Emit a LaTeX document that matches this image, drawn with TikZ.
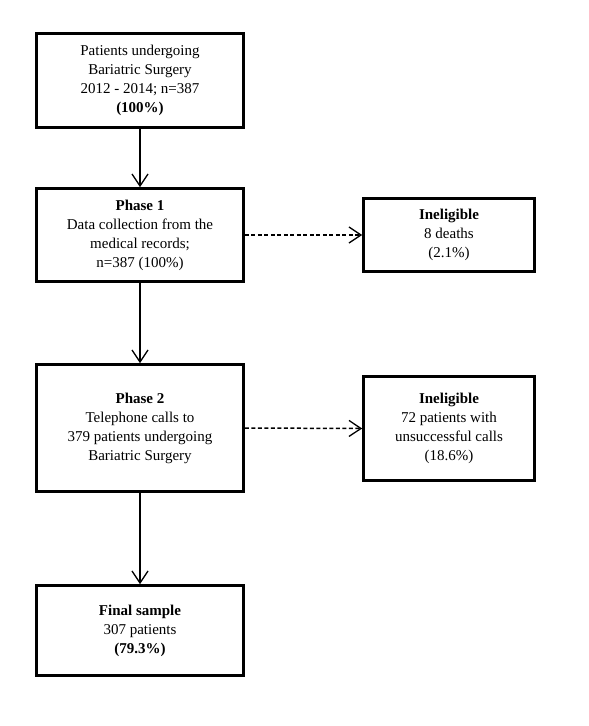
\documentclass[tikz,border=0pt]{standalone}
\usepackage{fontspec}
\setmainfont{Liberation Serif}
\usetikzlibrary{arrows.meta}
\begin{document}
\begin{tikzpicture}[x=1pt,y=-1pt,
  box/.style={draw=black, line width=2.7pt, fill=white, align=center, inner sep=0pt,
    font=\fontsize{15}{19}\selectfont},
  solidarrow/.style={line width=1.3pt, -{Straight Barb[length=12pt,width=16pt,line width=1.3pt]}},
  dasharrow/.style={line width=1.5pt, dash pattern=on 4pt off 2.5pt, -{Straight Barb[length=12pt,width=16pt,line width=1.3pt]}}]
\useasboundingbox (0,0) rectangle (589,726);
\node[box, minimum width=207pt, minimum height=94pt] (start) at (140,80.5)
  {Patients undergoing\\Bariatric Surgery\\2012 - 2014; n=387\\\textbf{(100\%)}};
\node[box, minimum width=207pt, minimum height=93pt] (p1) at (140,235)
  {\textbf{Phase 1}\\Data collection from the\\medical records;\\n=387 (100\%)};
\node[box, minimum width=171pt, minimum height=73pt] (in1) at (449,235)
  {\textbf{Ineligible}\\8 deaths\\(2.1\%)};
\node[box, minimum width=207pt, minimum height=127pt] (p2) at (140,428)
  {\textbf{Phase 2}\\Telephone calls to\\379 patients undergoing\\Bariatric Surgery};
\node[box, minimum width=171pt, minimum height=104pt] (in2) at (449,428.5)
  {\textbf{Ineligible}\\72 patients with\\unsuccessful calls\\(18.6\%)};
\node[box, minimum width=207pt, minimum height=90pt] (final) at (140,630.5)
  {\textbf{Final sample}\\307 patients\\\textbf{(79.3\%)}};
\draw[solidarrow] (start.south) -- (p1.north);
\draw[solidarrow] (p1.south) -- (p2.north);
\draw[solidarrow] (p2.south) -- (final.north);
\draw[dasharrow] (p1.east) -- (in1.west);
\draw[dasharrow] (p2.east) -- (in2.west);
\end{tikzpicture}
\end{document}
